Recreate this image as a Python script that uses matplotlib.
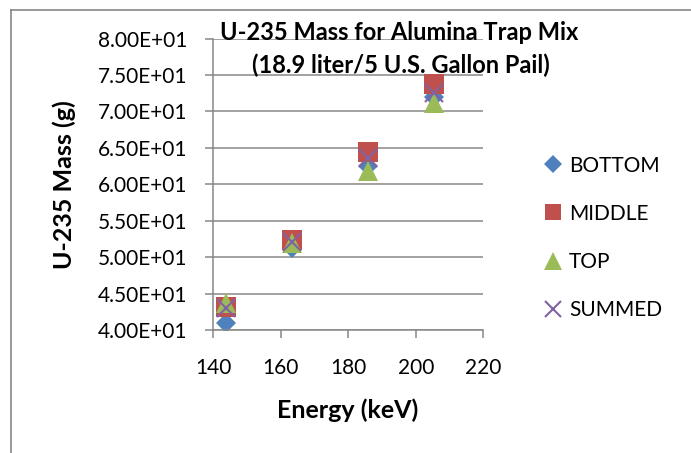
import numpy as np
import matplotlib.pyplot as plt
from matplotlib.lines import Line2D
from matplotlib.ticker import FuncFormatter

plt.rcParams['font.family'] = ['Lato', 'DejaVu Sans']

# U-235 gamma lines (keV)
energy = [143.8, 163.4, 185.7, 205.3]
bottom = [41.0, 51.3, 62.5, 72.0]
middle = [43.1, 52.3, 64.4, 73.8]
top = [43.7, 52.0, 61.8, 71.2]
summed = [43.0, 52.1, 63.6, 72.5]

series = [
    ("BOTTOM", bottom, "D", 10.5, "#4F81BD"),
    ("MIDDLE", middle, "s", 14, "#C0504D"),
    ("TOP", top, "^", 14.5, "#9BBB59"),
    ("SUMMED", summed, "x", 13, "#8064A2"),
]

fig = plt.figure(figsize=(6.91, 4.53), dpi=100)
ax = fig.add_axes([0.3087, 0.2715, 0.3908, 0.6435])

grid_c = "#878787"
for name, vals, m, ms, c in series:
    kw = dict(markeredgewidth=1.5) if m == "x" else dict(markeredgewidth=0)
    ax.plot(energy, vals, linestyle="none", marker=m, markersize=ms,
            color=c, label=name, **kw)

ax.set_xlim(140, 220)
ax.set_ylim(40, 80)
ax.set_xticks(np.arange(140, 221, 20))
ax.set_yticks(np.arange(40, 80.1, 5))
ax.yaxis.set_major_formatter(FuncFormatter(lambda v, p: "%.2fE+01" % (v / 10)))
ax.grid(axis="y", color=grid_c, linewidth=1.1)
ax.set_axisbelow(True)
for s in ["top", "right"]:
    ax.spines[s].set_visible(False)
for s in ["left", "bottom"]:
    ax.spines[s].set_color(grid_c)
    ax.spines[s].set_linewidth(1.1)
ax.tick_params(axis="both", colors=grid_c, labelcolor="black", labelsize=15,
               length=6, width=1.1)
ax.tick_params(axis="y", pad=13)
ax.tick_params(axis="x", pad=14)

# axis titles placed in figure pixels
fig.text(348 / 691, 1 - 410 / 453, "Energy (keV)", ha="center", va="center",
         fontsize=18, fontweight="bold")
fig.text(64 / 691, 1 - 185 / 453, "U-235 Mass (g)", ha="center", va="center",
         rotation=90, fontsize=18, fontweight="bold")

fig.text(0.578, 1 - 40 / 453, "U-235 Mass for Alumina Trap Mix",
         ha="center", va="baseline", fontsize=17, fontweight="bold")
fig.text(0.580, 1 - 73 / 453, "(18.9 liter/5 U.S. Gallon Pail)",
         ha="center", va="baseline", fontsize=17, fontweight="bold")

fig.legend(loc="upper left", bbox_to_anchor=(0.775, 0.675), frameon=False,
           fontsize=15, handlelength=0.9, handletextpad=0.3, labelspacing=1.35,
           markerscale=0.85, borderaxespad=0)

# outer chart frame (cropped at right and bottom)
fig.add_artist(Line2D([11 / 691, 1], [1 - 10 / 453] * 2, color=grid_c, lw=1.2,
                      transform=fig.transFigure))
fig.add_artist(Line2D([11 / 691] * 2, [0, 1 - 10 / 453], color=grid_c, lw=1.2,
                      transform=fig.transFigure))

fig.savefig("out.png", dpi=100)
